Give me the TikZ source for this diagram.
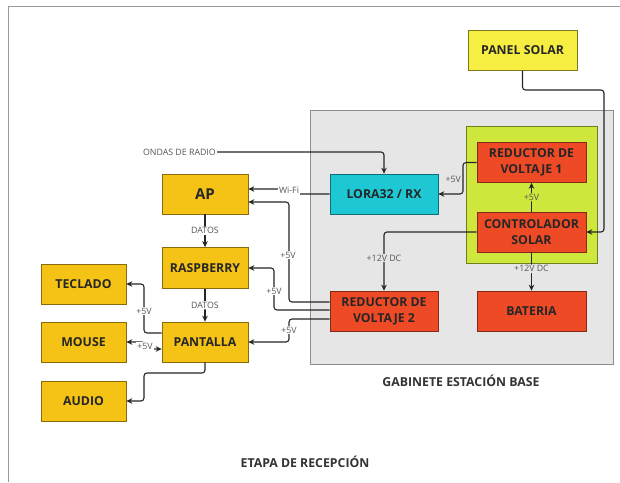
\documentclass[tikz,border=0pt]{standalone}
\usepackage{fontspec}
\setmainfont{Open Sans}
\usetikzlibrary{arrows.meta,calc}
\definecolor{unityellow}{HTML}{F5C316}
\definecolor{panelyellow}{HTML}{F7EE42}
\definecolor{powerred}{HTML}{EE4A26}
\definecolor{loracyan}{HTML}{1EC7D4}
\definecolor{ctrllime}{HTML}{CFE63C}
\definecolor{cabgray}{HTML}{E6E6E6}
\definecolor{wire}{HTML}{262626}
\definecolor{tagtext}{HTML}{555555}
\begin{document}
\begin{tikzpicture}[x=1pt,y=-1pt,
  unit/.style={rectangle, draw=black!55, line width=0.6pt, inner sep=0pt, align=center,
    text=black!85, font=\bfseries\fontsize{12.3}{16}\selectfont},
  ybox/.style={unit, fill=unityellow, draw=unityellow!55!black},
  rbox/.style={unit, fill=powerred, draw=powerred!55!black},
  wide/.style={minimum width=109pt, minimum height=40pt},
  narrow/.style={minimum width=86pt, minimum height=40pt},
  tag/.style={font=\fontsize{8.8}{10}\selectfont, text=tagtext, inner sep=1pt},
  wired/.style={draw=wire, line width=1.1pt, rounded corners=3pt},
  arr/.style={wired, -{Stealth[length=6pt,width=5.5pt]}},
  darr/.style={wired, {Stealth[length=6pt,width=5.5pt]}-{Stealth[length=6pt,width=5.5pt]}}
]
\useasboundingbox (0,0) rectangle (620,482);
\fill[white] (0,0) rectangle (620,482);
% page frame
\draw[black!40, line width=1pt] (8,482) -- (8,6) -- (620,6);

% cabinet and charge-controller enclosure
\draw[fill=cabgray, draw=black!45, line width=0.8pt] (310,110) rectangle (613,364);
\draw[fill=ctrllime, draw=ctrllime!55!black, line width=0.6pt] (466,126) rectangle (597,263);

% units
\node[unit, fill=panelyellow, draw=panelyellow!50!black, wide] (panel) at (522.5,50.5) {PANEL SOLAR};
\node[rbox, wide] (rv1) at (531.5,162.5) {REDUCTOR DE\\VOLTAJE 1};
\node[rbox, wide] (ctrl) at (531.5,232) {CONTROLADOR\\SOLAR};
\node[rbox, wide] (bat) at (531.5,311) {BATERIA};
\node[rbox, minimum width=108pt, minimum height=40pt] (rv2) at (384,311) {REDUCTOR DE\\VOLTAJE 2};
\node[unit, fill=loracyan, draw=loracyan!55!black, minimum width=108pt, minimum height=40pt] (lora) at (384,194) {LORA32 / RX};
\node[ybox, narrow, font=\bfseries\fontsize{15}{16}\selectfont] (ap) at (205,194) {AP};
\node[ybox, narrow, minimum height=41pt] (rasp) at (205,268) {RASPBERRY};
\node[ybox, narrow] (pant) at (205,342) {PANTALLA};
\node[ybox, minimum width=85pt, minimum height=40pt] (tec) at (83.5,284) {TECLADO};
\node[ybox, minimum width=85pt, minimum height=40pt] (mouse) at (83.5,342) {MOUSE};
\node[ybox, minimum width=85pt, minimum height=40pt] (audio) at (83.5,401) {AUDIO};

% captions
\node[font=\bfseries\fontsize{12.3}{14}\selectfont, text=black!80] (cab) at (461,381) {GABINETE ESTACIÓN BASE};
\node[font=\bfseries\fontsize{12.3}{14}\selectfont, text=black!80] (stage) at (305,462) {ETAPA DE RECEPCIÓN};

% solar supply
\draw[arr] (panel.south) |- (604,90) |- (ctrl.east);
\draw[arr] (ctrl.north) -- node[tag, fill=ctrllime] {+5V} (rv1.south);
\draw[arr] (rv1.west) -| (463,194) -- (lora.east);
\node[tag, anchor=east] (t5a) at (462,179) {+5V};
\draw[arr] (ctrl.west) -| (rv2.north);
\node[tag, fill=cabgray] (t12a) at (384,258) {+12V DC};
\draw[arr] (ctrl.south) -- node[tag, fill=cabgray, pos=0.43] {+12V DC} (bat.north);

% radio link and Wi-Fi
\node[tag, anchor=east] (ondas) at (217,152) {ONDAS DE RADIO};
\draw[arr] (ondas.east) -| (lora.north);
\draw[arr] (lora.west) -- (290,194) -- (290,189) -- ([yshift=5pt]ap.east);
\node[tag, fill=white] (wifi) at (289,190.5) {Wi-Fi};

% 5 V distribution from the second regulator
\draw[arr] ([yshift=9pt]rv2.west) -| (289,202) -- ([yshift=-8pt]ap.east);
\node[tag, fill=white] (t5b) at (288,255) {+5V};
\draw[arr] ([yshift=1pt]rv2.west) -| (274,268) -- (rasp.east);
\node[tag, fill=white] (t5c) at (274,291) {+5V};
\draw[arr] ([yshift=-8pt]rv2.west) -| (289,342) -- (pant.east);
\node[tag, fill=white] (t5d) at (289,330) {+5V};

% data path
\draw[arr] (ap.south) -- node[tag, fill=white] {DATOS} (rasp.north);
\draw[arr] (rasp.south) -- node[tag, fill=white] {DATOS} (pant.north);

% peripherals
\draw[arr] ([yshift=9pt]pant.west) -| (144,284) -- (tec.east);
\node[tag, fill=white] (t5e) at (144,311) {+5V};
\draw[darr] (mouse.east) -- (145,342) -- (145,349) -- ([yshift=-7pt]pant.west);
\node[tag, fill=white] (t5f) at (145,346) {+5V};
\draw[arr] (pant.south) |- (144,373) |- (audio.east);
\end{tikzpicture}
\end{document}
